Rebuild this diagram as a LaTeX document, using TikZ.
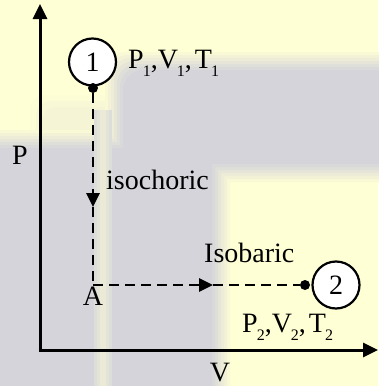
\documentclass[tikz,border=0pt]{standalone}
\usepackage{fontspec}
\setmainfont{Liberation Serif}
\usetikzlibrary{arrows.meta}
\definecolor{bgyellow}{RGB}{255,255,213}
\definecolor{bggrey}{RGB}{213,212,218}
\newcommand\lowsub[1]{\raisebox{-0.3em}{\fontsize{16}{16}\selectfont #1}}
\begin{document}
\begin{tikzpicture}[x=1pt,y=-1pt,
  axis/.style={line width=3pt,-{Triangle[length=15pt,width=14pt]}},
  proc/.style={line width=2.8pt,dash pattern=on 10pt off 6pt},
  proctip/.style={proc,-{Triangle[length=14pt,width=13pt]}},
  state/.style={circle,draw,line width=2.2pt,fill=white,minimum size=47pt,inner sep=0pt,font=\fontsize{28}{30}\selectfont},
  dot/.style={circle,fill=black,minimum size=10pt,inner sep=0pt},
  lbl/.style={inner sep=0pt,font=\fontsize{28}{30}\selectfont}]
\useasboundingbox (0,0) rectangle (378,386);
% background
\fill[bgyellow] (0,0) rectangle (378,386);
\foreach \i/\m in {0/8,6/16,12/24}{
  \fill[bggrey!\m!bgyellow, rounded corners=15pt] (30+\i,95+\i) rectangle (125,160);
}
\foreach \i/\m in {0/15,3/30,6/45,9/60,12/75,15/88,18/100}{
  \fill[bggrey!\m!bgyellow, rounded corners=20pt] (-40,130+\i) rectangle (230-\i,430);
  \fill[bggrey!\m!bgyellow, rounded corners=20pt] (105+\i,52+\i) rectangle (430,182-\i);
}
\foreach \i/\m in {0/20,3/35,6/50}{
  \fill[bgyellow!\m!bggrey] (94+\i,110) rectangle (112-\i,386);
}
% axes
\coordinate (O) at (40,350);
\coordinate (ytop) at (40,4);
\coordinate (xend) at (378,350);
\draw[axis] (O) -- (ytop);
\draw[axis] ([xshift=-1.5pt]O) -- (xend);
\node[lbl] (plabel) at (20,155) {P};
\node[lbl,anchor=base] (vlabel) at (220,381) {V};
% states
\node[state] (s1) at (92.5,62) {1};
\node[dot] (d1) at (93,88) {};
\node[lbl,anchor=base west] (t1) at (128,68) {P\kern-1pt\lowsub{1},V\kern-1pt\lowsub{1},\kern3pt T\kern-1pt\lowsub{1}};
\node[state] (s2) at (336,285) {2};
\node[dot] (d2) at (305,285) {};
\node[lbl,anchor=base west] (t2) at (242,332) {P\kern-1pt\lowsub{2},V\kern-1pt\lowsub{2},\kern3pt T\kern-1pt\lowsub{2}};
\coordinate (A) at (93,285);
\node[lbl,anchor=base] (alabel) at (93,305) {A};
\coordinate (m1) at (93,207);
\coordinate (m2) at (213,285);
% processes
\draw[proctip] (d1) -- (m1);
\draw[proc] (m1) -- (A);
\draw[proctip] (A) -- (m2);
\draw[proc] (m2) -- (d2);
\node[lbl,anchor=base west] (iso) at (106,189) {isochoric};
\node[lbl,anchor=base west] (isob) at (204,262) {Isobaric};
\end{tikzpicture}
\end{document}
